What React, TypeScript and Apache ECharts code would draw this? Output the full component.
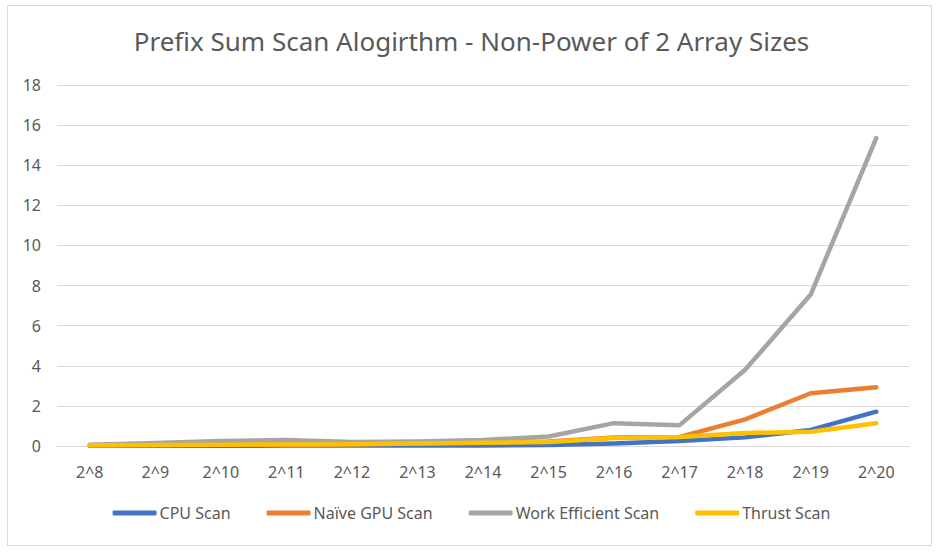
import React, { useEffect, useRef } from "react";
import * as echarts from "echarts";

const categories = ["2^8", "2^9", "2^10", "2^11", "2^12", "2^13", "2^14", "2^15", "2^16", "2^17", "2^18", "2^19", "2^20"];
const cpuScan = [0.01, 0.01, 0.01, 0.02, 0.02, 0.03, 0.03, 0.05, 0.12, 0.25, 0.43, 0.8, 1.71];
const naiveGpuScan = [0.03, 0.05, 0.07, 0.08, 0.09, 0.12, 0.18, 0.22, 0.42, 0.45, 1.33, 2.63, 2.93];
const workEfficientScan = [0.06, 0.15, 0.25, 0.3, 0.2, 0.23, 0.3, 0.47, 1.14, 1.04, 3.8, 7.55, 15.35];
const thrustScan = [0.04, 0.05, 0.06, 0.08, 0.09, 0.12, 0.16, 0.2, 0.4, 0.45, 0.65, 0.71, 1.13];
const titleText = "Prefix Sum Scan Alogirthm - Non-Power of 2 Array Sizes";

const FONT = "'Noto Sans', sans-serif";
const TEXT = "#595959";

export default function App() {
  const ref = useRef<HTMLDivElement>(null);
  useEffect(() => {
    document.body.style.margin = "0";
    const chart = echarts.init(ref.current!, undefined, { renderer: "svg" });
    const mk = (name: string, data: number[], color: string) => ({
      name,
      type: "line",
      data,
      symbol: "none",
      lineStyle: { color, width: 4.5, cap: "round", join: "round" },
      itemStyle: { color },
    });
    chart.setOption({
      animation: false,
      backgroundColor: "#ffffff",
      title: {
        text: titleText,
        left: "center",
        top: 23,
        textStyle: { fontFamily: FONT, fontSize: 26, fontWeight: "normal", color: TEXT },
      },
      graphic: [
        {
          type: "rect",
          shape: { x: 7.5, y: 5.5, width: 924, height: 540 },
          style: { fill: "none", stroke: "#d9d9d9", lineWidth: 1 },
          silent: true,
        },
      ],
      grid: { left: 57, right: 34, top: 85, bottom: 108, containLabel: false },
      legend: {
        bottom: 28,
        left: "center",
        icon: "roundRect",
        itemWidth: 44,
        itemHeight: 5,
        itemGap: 36,
        textStyle: { fontFamily: FONT, fontSize: 16, color: TEXT, padding: [0, 0, 0, -2] },
      },
      xAxis: {
        type: "category",
        data: categories,
        boundaryGap: true,
        axisLine: { lineStyle: { color: "#d9d9d9", width: 1 } },
        axisTick: { show: false },
        axisLabel: { fontFamily: FONT, fontSize: 16, color: TEXT, margin: 18 },
      },
      yAxis: {
        type: "value",
        min: 0,
        max: 18,
        interval: 2,
        axisLine: { show: false },
        axisTick: { show: false },
        splitLine: { lineStyle: { color: "#d9d9d9", width: 1 } },
        axisLabel: { fontFamily: FONT, fontSize: 16, color: TEXT, margin: 16 },
      },
      series: [
        mk("CPU Scan", cpuScan, "#4472C4"),
        mk("Naïve GPU Scan", naiveGpuScan, "#ED7D31"),
        mk("Work Efficient Scan", workEfficientScan, "#A5A5A5"),
        mk("Thrust Scan", thrustScan, "#FFC000"),
      ],
    });
    return () => chart.dispose();
  }, []);
  return <div ref={ref} style={{ width: 943, height: 554 }} />;
}
